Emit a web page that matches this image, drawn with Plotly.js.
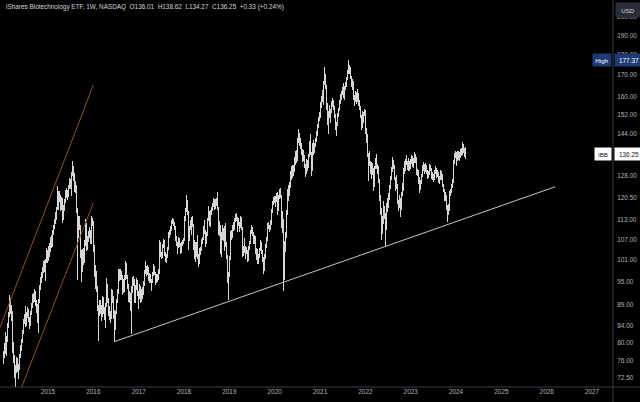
<!DOCTYPE html>
<html>
<head>
<meta charset="utf-8">
<script src="https://cdn.plot.ly/plotly-3.0.1.min.js"></script>
<style>
html,body{margin:0;padding:0;background:#000;}
#chart{width:640px;height:402px;}
.ohlclayer path{shape-rendering:crispEdges;}
</style>
</head>
<body>
<div id="chart"></div>
<script>
// Weekly bars [open, high, low, close], IBB (split-adjusted)
const bars2014 = [
[76.5,78.2,75.4,77.0],[77.0,80.1,76.6,79.5],[79.6,82.4,79.0,81.0],[81.2,82.0,77.6,79.5],
[79.0,81.5,77.2,80.5],[80.8,84.6,80.2,84.0],[84.2,87.4,83.5,86.5],[86.8,91.5,86.0,89.5],
[89.3,90.8,86.9,88.5],[88.4,89.0,85.2,86.0],[86.2,87.5,83.0,84.0],[84.1,84.6,77.8,78.5],
[78.8,80.2,75.6,77.0],[76.8,77.4,72.6,73.5],[73.8,75.2,70.6,74.0],[74.2,77.0,73.5,76.0],
[76.1,76.8,73.8,74.5],[74.4,75.2,72.4,73.0],[73.2,75.4,72.8,74.5],[74.8,77.6,74.2,77.0],
[77.2,79.5,76.6,79.0],[79.1,81.0,78.2,80.5],[80.6,83.0,80.0,82.5],[82.6,85.6,82.0,85.0],
[85.2,86.8,84.3,86.0],[86.1,88.8,85.5,87.0],[86.8,87.4,83.6,84.5],[84.6,87.2,84.0,86.5],
[86.6,88.4,85.8,87.5],[87.6,88.0,84.8,85.5],[85.4,86.0,83.2,84.0],[84.2,87.6,83.8,87.0],
[87.1,89.5,86.6,89.0],[89.0,90.2,88.2,89.5],[89.6,91.8,89.0,91.0],[91.2,92.0,89.6,90.5],
[90.6,93.0,89.8,92.0],[92.0,92.6,88.8,89.5],[89.4,90.4,87.0,89.0],[88.8,89.2,84.6,85.5],
[85.2,86.8,82.2,84.5],[84.8,90.5,84.4,90.0],[90.2,94.2,89.6,93.5],[93.6,96.4,92.8,95.5],
[95.6,97.8,94.6,97.0],[97.2,99.0,96.0,98.0],[98.1,100.8,97.4,100.0],[100.2,101.0,97.8,99.0],
[99.0,99.6,95.2,97.0],[97.2,101.2,96.4,100.5],[100.6,104.6,100.2,103.0],[103.0,103.8,100.2,101.0]
];
const bars2015 = [
[101.2,105.0,100.6,104.0],[104.2,106.0,101.8,103.5],[103.8,107.8,103.2,107.0],[107.2,108.4,104.6,106.0],
[106.2,108.6,104.8,107.5],[107.6,110.0,106.8,109.0],[109.2,111.6,108.4,111.0],[111.2,113.4,110.2,112.5],
[112.6,115.6,111.8,114.5],[114.4,117.4,113.0,116.5],[116.8,124.5,116.2,121.5],[121.4,122.6,117.0,118.0],
[118.2,120.8,116.4,119.5],[119.8,122.8,119.0,121.0],[120.8,121.4,116.0,117.0],[117.2,120.6,116.2,120.0],
[120.0,120.4,112.0,114.5],[114.6,117.8,113.2,117.0],[117.2,119.8,116.0,119.0],[119.2,122.8,118.6,122.0],
[122.0,123.0,119.8,121.0],[121.2,123.6,120.2,122.5],[122.4,123.0,119.6,121.0],[121.2,124.8,120.6,124.0],
[124.2,127.2,123.4,126.0],[126.0,127.0,123.2,125.5],[125.2,125.8,121.0,123.0],[123.2,129.2,122.8,128.5],
[128.6,133.5,128.0,131.0],[130.8,131.4,126.2,128.5],[128.4,129.0,122.4,123.5],[123.6,126.2,121.8,124.5],
[124.2,124.6,115.2,116.0],[115.4,116.8,95.5,114.0],[113.8,114.4,107.6,110.0],[110.2,113.2,108.6,112.0],
[112.2,114.2,109.8,111.0],[110.8,111.4,101.6,103.0],[102.6,103.8,95.0,99.0],[99.2,104.2,97.6,103.0],
[103.2,104.6,99.6,101.0],[101.2,106.8,100.2,106.0],[106.2,109.4,105.0,108.0],[108.2,113.4,107.4,111.5],
[111.2,112.0,103.6,104.5],[104.6,108.2,103.8,107.0],[107.2,109.6,106.2,108.5],[108.6,110.8,107.4,109.5],
[109.4,110.0,105.6,107.0],[107.2,111.2,105.8,110.0],[110.2,114.2,109.4,112.0],[112.2,113.8,111.0,112.5]
];
const bars2016 = [
[112.0,112.6,103.2,104.0],[104.2,105.4,96.4,97.0],[97.2,99.6,93.0,95.5],[95.6,98.0,92.4,93.5],
[93.2,94.0,87.6,88.5],[88.2,89.0,80.5,83.0],[83.4,87.8,82.6,87.0],[87.2,90.2,86.2,88.5],
[88.4,90.4,86.8,88.0],[88.2,89.0,85.2,86.5],[86.8,91.2,86.0,90.5],[90.4,91.0,86.8,87.5],
[87.6,88.6,85.4,86.5],[86.4,87.0,83.4,84.5],[84.6,89.6,84.0,89.0],[89.2,96.0,88.6,94.0],
[93.8,94.4,89.6,90.5],[90.4,90.8,86.4,87.5],[87.6,88.8,85.4,86.5],[86.6,87.6,84.6,86.0],
[86.2,91.6,85.6,91.0],[91.2,93.0,90.2,92.0],[92.0,92.8,89.4,90.5],[90.6,91.2,85.6,86.0],
[86.2,87.8,80.3,84.5],[84.4,87.6,83.0,87.0],[87.2,90.6,86.8,90.0],[90.2,93.2,89.6,92.5],
[92.6,95.0,91.8,94.0],[94.2,98.4,93.6,97.0],[97.0,98.6,95.2,96.0],[96.2,98.4,95.4,97.5],
[97.4,98.0,95.4,96.5],[96.4,96.8,91.6,92.5],[92.6,95.8,92.0,95.0],[95.0,96.2,93.2,94.0],
[93.8,96.8,92.4,96.0],[96.2,100.6,95.6,100.0],[99.8,100.2,95.8,96.5],[96.4,96.8,93.2,94.0],
[93.8,94.4,89.8,90.5],[90.6,92.6,89.4,91.5],[91.4,92.0,87.6,88.5],[88.4,88.8,82.0,84.0],
[84.6,94.0,84.2,93.0],[93.2,96.4,92.0,94.5],[94.6,96.6,93.8,95.5],[95.4,95.8,89.4,90.0],
[90.2,94.2,89.6,93.5],[93.6,96.0,92.8,95.0],[94.8,95.4,91.4,92.0],[92.0,92.6,88.0,88.5]
];
const bars2017 = [
[88.8,91.6,88.2,91.0],[91.2,94.4,90.6,93.5],[93.4,94.0,89.6,90.5],[90.6,93.2,89.8,92.5],
[92.4,93.6,90.6,92.0],[92.2,95.2,91.6,94.5],[94.6,97.2,94.0,96.5],[96.6,98.2,95.8,97.5],
[97.6,100.6,97.0,99.0],[98.8,99.4,96.6,97.5],[97.6,99.6,96.8,98.5],[98.4,99.0,95.2,96.0],
[96.0,97.4,94.8,96.5],[96.6,97.2,94.6,95.5],[95.4,95.8,92.6,93.5],[93.6,95.8,93.0,95.0],
[95.2,97.8,94.6,97.0],[97.2,99.8,96.6,99.0],[98.8,99.4,96.8,97.5],[97.4,97.8,94.2,95.0],
[95.2,97.2,94.6,96.5],[96.4,97.0,95.0,96.0],[96.2,98.4,95.6,97.5],[97.4,98.2,95.8,97.0],
[97.6,107.0,97.2,106.0],[105.6,106.2,101.8,102.5],[102.4,103.4,101.2,102.0],[102.2,105.8,101.6,105.0],
[105.2,107.2,104.6,106.5],[106.4,106.8,103.8,104.5],[104.4,105.0,102.2,103.0],[102.8,103.4,100.4,101.0],
[101.2,102.8,100.2,102.0],[102.2,104.8,101.6,104.0],[104.2,109.2,103.8,108.5],[108.6,109.8,107.6,109.0],
[109.2,111.2,108.4,110.5],[110.4,111.8,109.6,111.0],[111.2,113.2,110.4,112.5],[112.6,113.8,111.8,113.0],
[112.8,113.4,111.2,112.0],[111.8,112.4,110.0,111.0],[110.8,111.2,106.6,107.5],[107.4,108.0,105.2,106.0],
[105.8,106.4,102.8,103.5],[103.6,105.8,103.0,105.0],[105.2,107.8,104.6,107.0],[107.0,107.6,104.8,105.5],
[105.4,106.0,102.6,103.5],[103.6,106.2,103.0,105.5],[105.6,107.0,105.0,106.0],[106.0,107.4,105.6,106.8]
];
const bars2018 = [
[107.0,110.6,106.6,110.0],[110.2,114.2,109.6,113.5],[113.6,116.8,112.8,116.0],[116.2,121.2,115.6,119.0],
[119.0,119.6,114.6,115.5],[115.2,115.8,104.0,107.0],[107.4,111.2,106.6,110.5],[110.6,113.0,109.8,111.5],
[111.4,112.6,108.4,110.0],[110.2,114.0,109.0,113.0],[113.2,114.4,110.8,111.5],[111.2,111.8,103.8,104.5],
[104.2,107.0,101.2,105.5],[105.4,106.2,100.4,102.5],[102.6,106.2,102.0,105.5],[105.6,108.4,104.8,106.5],
[106.4,107.0,101.4,102.0],[101.8,102.8,99.0,100.5],[100.6,104.4,100.0,103.5],[103.4,104.8,102.4,104.0],
[104.2,107.2,103.6,106.5],[106.4,107.8,105.6,107.0],[107.2,111.2,106.8,110.5],[110.6,113.0,109.8,112.0],
[111.8,112.4,108.6,109.5],[109.4,110.0,104.8,106.5],[106.6,109.2,105.6,108.5],[108.6,113.6,108.2,113.0],
[113.2,117.6,112.8,115.5],[115.4,116.0,111.2,112.0],[112.2,114.6,110.8,114.0],[114.2,116.2,113.4,115.5],
[115.6,117.4,114.6,116.5],[116.6,118.6,115.8,118.0],[118.2,120.2,117.4,119.5],[119.4,119.8,116.2,117.0],
[117.2,120.0,116.6,119.5],[119.4,120.4,117.6,118.5],[118.6,122.4,118.0,121.5],[121.4,121.8,116.2,117.0],
[116.8,117.2,108.4,109.5],[109.6,112.6,108.2,111.0],[110.8,111.4,102.6,104.5],[104.4,109.2,102.0,108.5],
[108.6,111.4,107.0,110.0],[109.8,110.6,106.6,107.5],[107.4,108.0,103.6,104.5],[104.6,111.2,104.0,110.5],
[110.4,112.0,104.8,105.5],[105.4,106.2,101.2,102.0],[101.8,102.4,94.8,95.5],[95.4,97.6,90.3,97.0],
[97.2,102.2,96.2,101.5]
];
const bars2019 = [
[101.6,106.8,101.0,106.0],[106.2,109.6,105.4,109.0],[108.8,109.8,107.0,108.0],[108.2,111.6,107.4,111.0],
[111.2,112.4,109.6,110.5],[110.6,113.6,110.0,113.0],[113.2,115.0,112.4,114.0],[114.2,115.2,112.6,113.5],
[113.4,114.0,109.4,110.0],[110.2,113.2,109.6,112.5],[112.6,113.8,111.2,112.0],[111.8,112.4,109.2,110.5],
[110.8,114.2,110.4,113.5],[113.4,114.0,110.0,110.5],[110.4,110.8,101.8,103.0],[103.2,105.2,102.2,104.0],
[104.2,107.4,103.6,106.5],[106.4,107.0,103.0,104.0],[103.8,105.0,101.4,103.5],[103.6,104.8,102.6,103.5],
[103.4,103.8,100.4,101.0],[101.2,105.2,100.6,104.5],[104.6,106.6,103.8,106.0],[106.2,109.2,105.6,108.5],
[108.6,109.8,107.8,109.0],[109.2,111.4,108.6,110.5],[110.4,110.8,108.2,109.0],[108.8,109.2,105.8,106.5],
[106.6,108.4,105.8,107.5],[107.4,108.0,102.8,103.5],[103.2,104.6,101.0,103.5],[103.6,104.2,101.2,102.5],
[102.4,103.0,99.8,100.5],[100.6,102.6,99.8,102.0],[102.2,104.6,101.6,104.0],[104.2,106.8,103.6,106.0],
[106.0,106.4,102.8,103.5],[103.4,103.8,100.4,101.0],[101.0,101.8,98.6,100.0],[99.8,100.4,97.0,98.5],
[98.6,102.6,98.0,102.0],[102.2,105.6,101.4,105.0],[105.2,107.8,104.4,107.0],[107.2,112.0,106.6,111.5],
[111.4,112.4,110.2,111.0],[110.8,111.6,109.4,110.5],[110.6,113.0,110.0,112.5],[112.4,113.2,110.6,112.0],
[112.2,116.6,111.6,116.0],[116.2,119.2,115.4,118.5],[118.6,120.6,117.8,120.0],[120.0,121.0,118.6,119.5]
];
const bars2020 = [
[119.6,120.8,117.4,119.5],[119.6,122.0,119.0,121.0],[121.2,122.2,118.4,119.0],[118.8,119.4,114.8,116.5],
[116.6,121.2,116.0,120.5],[120.6,123.4,120.0,122.5],[122.6,123.6,120.4,121.0],[120.8,121.2,110.6,111.5],
[111.4,116.0,109.0,113.0],[112.6,113.4,101.4,103.5],[103.2,105.8,92.5,96.5],[96.8,106.6,95.4,106.0],
[106.2,109.4,103.2,108.0],[108.2,116.2,107.6,115.5],[115.6,123.2,114.8,122.0],[122.2,124.6,119.2,123.0],
[123.2,125.8,121.0,124.0],[124.2,128.8,123.6,128.0],[128.2,129.6,124.0,127.5],[127.6,131.6,126.4,131.0],
[131.2,131.8,127.2,129.5],[129.6,132.0,128.0,131.0],[131.2,135.0,129.4,133.5],[133.6,137.2,132.0,136.0],
[136.2,137.6,132.8,134.0],[134.2,138.4,133.4,137.5],[137.6,142.2,136.8,141.0],[141.2,146.0,140.2,143.5],
[143.4,144.2,139.2,140.5],[140.6,142.2,138.0,139.5],[139.4,140.2,135.8,137.5],[137.6,138.2,133.2,134.5],
[134.6,137.4,133.6,136.0],[136.2,137.8,133.8,135.0],[135.2,135.8,130.8,132.0],[131.8,132.4,127.6,129.5],
[129.6,134.2,128.8,133.0],[133.2,134.0,129.6,131.5],[131.6,136.2,130.8,135.5],[135.6,141.2,135.0,140.5],
[140.6,144.0,139.4,141.0],[141.2,141.8,135.6,136.5],[136.4,137.0,128.0,130.0],[130.2,140.4,129.6,139.0],
[139.2,141.6,135.8,137.0],[137.2,140.4,136.4,139.5],[139.6,142.4,138.8,141.5],[141.6,143.4,140.6,142.5],
[142.6,145.2,141.8,144.0],[144.2,148.0,143.2,147.0],[147.2,151.0,146.4,150.0],[150.2,153.0,149.2,152.0]
];
const bars2021 = [
[152.2,157.4,150.6,156.0],[156.2,160.4,154.8,159.0],[159.2,162.8,157.6,161.5],[161.6,163.4,156.4,160.0],
[160.2,167.2,159.4,166.0],[166.2,174.0,165.4,170.0],[169.8,170.6,163.2,164.5],[164.4,165.2,153.8,156.0],
[155.8,157.2,147.6,150.0],[149.8,153.6,144.0,152.0],[152.2,156.2,150.4,153.0],[153.2,154.4,148.6,151.0],
[151.2,154.6,149.8,153.5],[153.6,157.8,152.8,156.5],[156.6,159.4,155.2,157.5],[157.6,158.6,153.8,155.0],
[155.0,155.6,150.6,152.0],[151.8,152.4,145.6,147.5],[147.4,148.2,143.0,145.0],[145.2,149.0,144.2,148.0],
[148.2,152.6,147.4,151.5],[151.6,155.0,150.8,154.0],[154.2,158.4,153.4,157.5],[157.6,161.2,156.6,160.0],
[160.2,162.6,158.6,161.5],[161.6,164.2,160.8,163.0],[163.2,166.0,162.4,164.5],[164.4,165.0,159.4,160.5],
[160.4,164.8,158.6,164.0],[164.2,166.4,163.0,165.0],[165.2,169.2,164.4,168.0],[168.2,172.2,167.4,171.0],
[171.2,177.37,170.6,173.5],[173.4,174.6,170.2,172.0],[172.2,173.6,169.4,170.5],[170.4,171.2,167.8,169.0],
[168.8,169.4,164.2,165.0],[165.2,167.8,163.0,166.5],[166.4,167.0,158.4,159.5],[159.4,160.6,155.6,158.0],
[158.2,162.4,157.4,161.0],[161.2,162.2,158.8,160.0],[160.2,161.0,156.8,158.0],[158.2,163.2,157.6,161.0],
[160.8,161.4,155.6,157.0],[157.2,158.2,154.0,155.0],[155.0,155.6,150.6,151.5],[151.2,152.0,145.4,147.0],
[147.2,153.6,146.6,152.5],[152.4,153.2,148.6,150.0],[150.2,153.2,148.8,152.0],[152.2,154.6,151.4,153.0]
];
const bars2022 = [
[153.2,154.0,143.8,145.0],[145.2,146.6,140.4,143.5],[143.4,144.0,134.8,136.0],[135.8,136.6,126.0,133.0],
[133.2,136.0,131.4,134.5],[134.6,137.2,132.2,133.0],[132.8,133.6,128.6,130.0],[130.2,133.2,127.0,131.5],
[131.6,132.8,128.4,130.5],[130.4,131.0,122.5,124.5],[124.6,131.6,124.0,131.0],[131.2,134.6,130.4,133.5],
[133.6,136.0,132.6,134.5],[134.4,135.0,130.4,131.0],[130.8,132.2,128.8,130.5],[130.6,131.4,125.4,126.5],
[126.4,127.0,119.4,120.5],[120.4,121.4,114.6,116.5],[116.4,117.0,107.0,110.0],[110.2,114.2,108.8,112.5],
[112.6,118.4,111.8,117.5],[117.6,119.4,115.2,116.0],[116.2,117.6,113.4,115.0],[114.8,115.4,104.8,110.5],
[110.6,118.6,110.0,118.0],[118.2,120.4,115.6,117.5],[117.6,121.8,117.0,121.0],[121.2,123.2,119.6,121.5],
[121.6,124.8,120.8,124.0],[124.2,127.8,123.4,127.0],[127.2,131.2,126.6,130.0],[130.2,135.0,129.4,132.0],
[132.2,133.8,130.4,131.5],[131.4,132.0,126.6,127.0],[126.8,127.4,122.8,124.0],[124.2,127.6,123.4,126.0],
[126.2,128.2,123.6,124.5],[124.4,125.0,118.2,119.0],[118.8,119.6,115.8,117.5],[117.6,121.2,116.8,120.0],
[119.8,120.4,114.0,117.0],[117.2,122.2,116.4,121.5],[121.6,125.6,120.8,125.0],[125.2,126.4,122.8,124.5],
[124.6,130.8,123.8,129.5],[129.6,133.6,128.8,130.5],[130.6,134.2,129.8,132.5],[132.6,135.8,131.8,133.0],
[132.8,133.6,130.2,131.0],[131.2,134.4,129.6,131.5],[131.4,133.0,129.8,132.0],[132.2,133.4,130.6,131.5]
];
const bars2023 = [
[131.6,134.2,130.4,133.0],[133.2,135.8,132.4,134.5],[134.4,135.2,131.2,132.0],[132.2,134.4,131.0,133.5],
[133.6,137.0,132.8,135.5],[135.4,136.2,132.6,134.0],[134.2,135.0,132.0,133.5],[133.4,134.0,128.4,129.0],
[129.2,130.6,127.8,129.5],[129.4,130.0,125.2,126.0],[125.8,127.4,122.0,124.0],[124.2,126.4,123.0,125.5],
[125.6,128.6,125.0,128.0],[128.2,131.0,127.4,130.0],[130.2,131.8,129.2,130.5],[130.6,133.2,129.8,131.5],
[131.4,132.2,128.8,130.0],[130.2,132.6,129.4,131.5],[131.4,132.0,128.6,129.5],[129.6,130.2,126.8,128.0],
[128.2,129.8,127.2,129.0],[129.2,130.8,128.2,130.0],[130.2,132.4,129.6,131.5],[131.4,132.0,129.8,130.5],
[130.4,130.8,126.8,127.5],[127.6,129.4,126.6,128.5],[128.4,128.8,125.8,127.0],[127.2,130.2,126.6,129.5],
[129.6,131.4,128.8,130.5],[130.4,131.0,128.8,130.0],[129.8,130.4,127.2,128.0],[128.2,130.0,127.4,129.0],
[128.8,129.4,125.4,126.0],[126.2,127.8,125.2,127.0],[127.2,130.2,126.6,129.5],[129.4,129.8,126.4,127.0],
[127.2,128.8,126.2,128.0],[127.8,128.4,124.0,124.5],[124.4,125.0,122.2,123.0],[122.8,123.4,119.4,120.0],
[120.2,122.2,119.2,121.0],[120.8,121.4,116.4,117.0],[117.2,117.8,112.5,115.5],[115.6,118.2,114.6,117.5],
[117.4,118.6,115.8,117.0],[117.2,122.6,116.8,122.0],[122.2,123.4,121.0,122.5],[122.6,125.2,121.8,124.5],
[124.6,126.8,123.8,126.0],[126.2,133.8,125.6,133.0],[133.2,136.6,132.4,135.5],[135.6,137.2,134.6,136.0]
];
const bars2024 = [
[136.2,136.8,131.6,133.5],[133.6,136.6,132.8,136.0],[136.2,137.4,133.4,134.5],[134.6,137.2,133.8,136.5],
[136.4,137.0,133.6,135.0],[135.2,138.0,134.4,137.0],[137.2,138.6,135.2,136.5],[136.4,139.6,135.8,138.5],
[138.6,140.6,137.6,139.0],[139.2,139.8,136.6,138.0],[137.8,138.4,134.8,135.92],[136.01,138.62,134.27,136.25]
];
const firstBarDate = '2014-01-06';

// Drawn trend lines (date, price)
const supportDates = ['2016-06-18', '2026-03-09'];
const supportPrices = [80.3, 124.1];
const channelUpperDates = ['2013-11-01', '2016-01-01'];
const channelUpperPrices = [80.7, 165.2];
const channelLowerDates = ['2014-05-24', '2016-01-01'];
const channelLowerPrices = [70.1, 118.6];

// Axis ticks
const yTickValues = [72.5, 76, 80, 84, 89, 95, 101, 107, 113, 120.5, 128, 144, 152, 160, 170, 180, 190, 200];
const xTickYears = [2014, 2015, 2016, 2017, 2018, 2019, 2020, 2021, 2022, 2023, 2024, 2025, 2026, 2027];

const headerText = 'iShares Biotechnology ETF, 1W, NASDAQ\u00A0\u00A0O136.01\u00A0\u00A0H138.62\u00A0\u00A0L134.27\u00A0\u00A0C136.25\u00A0\u00A0+0.33 (+0.24%)';
const highValue = 177.37;
const lastValue = 136.25;

// ---- build ----
const allBars = [].concat(bars2014, bars2015, bars2016, bars2017, bars2018, bars2019,
  bars2020, bars2021, bars2022, bars2023, bars2024);
const start = new Date(firstBarDate + 'T00:00:00Z');
const dates = allBars.map((b, i) => {
  const d = new Date(start.getTime() + i * 7 * 86400000);
  return d.toISOString().slice(0, 10);
});

const barColor = '#d6d6d6';
const traces = [
  {
    type: 'ohlc', x: dates,
    open: allBars.map(b => b[0]), high: allBars.map(b => b[1]),
    low: allBars.map(b => b[2]), close: allBars.map(b => b[3]),
    increasing: {line: {color: barColor, width: 1}},
    decreasing: {line: {color: barColor, width: 1}},
    tickwidth: 0.3, hoverinfo: 'skip'
  },
  {type: 'scatter', mode: 'lines', x: supportDates, y: supportPrices,
   line: {color: '#c4c4c4', width: 1}, hoverinfo: 'skip'},
  {type: 'scatter', mode: 'lines', x: channelUpperDates, y: channelUpperPrices,
   line: {color: '#9a4d1a', width: 1}, hoverinfo: 'skip'},
  {type: 'scatter', mode: 'lines', x: channelLowerDates, y: channelLowerPrices,
   line: {color: '#9a4d1a', width: 1}, hoverinfo: 'skip'}
];

const axisFont = {family: 'Liberation Sans, Arial, sans-serif', size: 6.4, color: '#b2b5be'};
const log10 = v => Math.log(v) / Math.LN10;

const layout = {
  width: 640, height: 402,
  margin: {l: 0, r: 27, t: 0, b: 15, pad: 0},
  paper_bgcolor: '#000000', plot_bgcolor: '#000000',
  showlegend: false, hovermode: false,
  xaxis: {
    type: 'date', range: ['2013-12-10', '2027-06-19'],
    rangeslider: {visible: false},
    showgrid: false, zeroline: false, showline: false,
    tickvals: xTickYears.map(y => y + '-01-01'),
    ticktext: xTickYears.map(String),
    ticks: '', tickfont: axisFont, fixedrange: true
  },
  yaxis: {
    type: 'log', side: 'right',
    range: [log10(70.69), log10(209.82)],
    showgrid: false, zeroline: false, showline: false,
    tickvals: yTickValues, ticktext: yTickValues.map(v => v.toFixed(2)),
    ticks: 'outside', ticklen: 2, tickcolor: 'rgba(0,0,0,0)',
    tickfont: axisFont, fixedrange: true
  },
  shapes: [
    {type: 'line', xref: 'paper', yref: 'paper', x0: 0, x1: 640 / 613, y0: 0, y1: 0,
     line: {color: '#3a3c42', width: 1}},
    {type: 'line', xref: 'paper', yref: 'paper', x0: 1, x1: 1, y0: -15 / 387, y1: 1,
     line: {color: '#3a3c42', width: 1}}
  ],
  annotations: [
    {xref: 'paper', yref: 'paper', x: 0, y: 1, xanchor: 'left', yanchor: 'top',
     xshift: 4, yshift: -1, text: headerText, showarrow: false,
     font: {family: 'Liberation Sans, Arial, sans-serif', size: 6.4, color: '#d1d4dc'}},
    {xref: 'paper', yref: 'paper', x: 1, y: 1, xanchor: 'left', yanchor: 'top',
     xshift: 2, yshift: -2, width: 22, height: 12, text: 'USD', showarrow: false,
     bgcolor: '#2a2e39', font: {family: 'Liberation Sans, Arial, sans-serif', size: 6.2, color: '#d1d4dc'}},
    {xref: 'paper', yref: 'y', x: 1, y: log10(highValue), xanchor: 'right', yanchor: 'middle',
     xshift: -1, width: 16, height: 10, text: 'High', showarrow: false, bgcolor: '#1d3a75',
     font: {family: 'Liberation Sans, Arial, sans-serif', size: 6.2, color: '#ffffff'}},
    {xref: 'paper', yref: 'y', x: 1, y: log10(highValue), xanchor: 'left', yanchor: 'middle',
     xshift: 1, width: 26, height: 10, text: highValue.toFixed(2), showarrow: false, bgcolor: '#1d3a75',
     font: {family: 'Liberation Sans, Arial, sans-serif', size: 6.4, color: '#ffffff'}},
    {xref: 'paper', yref: 'y', x: 1, y: log10(lastValue), xanchor: 'right', yanchor: 'middle',
     xshift: -1, width: 14, height: 10, text: 'IBB', showarrow: false, bgcolor: '#ffffff',
     font: {family: 'Liberation Sans, Arial, sans-serif', size: 6.2, color: '#131722'}},
    {xref: 'paper', yref: 'y', x: 1, y: log10(lastValue), xanchor: 'left', yanchor: 'middle',
     xshift: 1, width: 26, height: 10, text: lastValue.toFixed(2), showarrow: false, bgcolor: '#ffffff',
     font: {family: 'Liberation Sans, Arial, sans-serif', size: 6.4, color: '#131722'}}
  ]
};

Plotly.newPlot('chart', traces, layout, {staticPlot: true, displayModeBar: false});
</script>
</body>
</html>
